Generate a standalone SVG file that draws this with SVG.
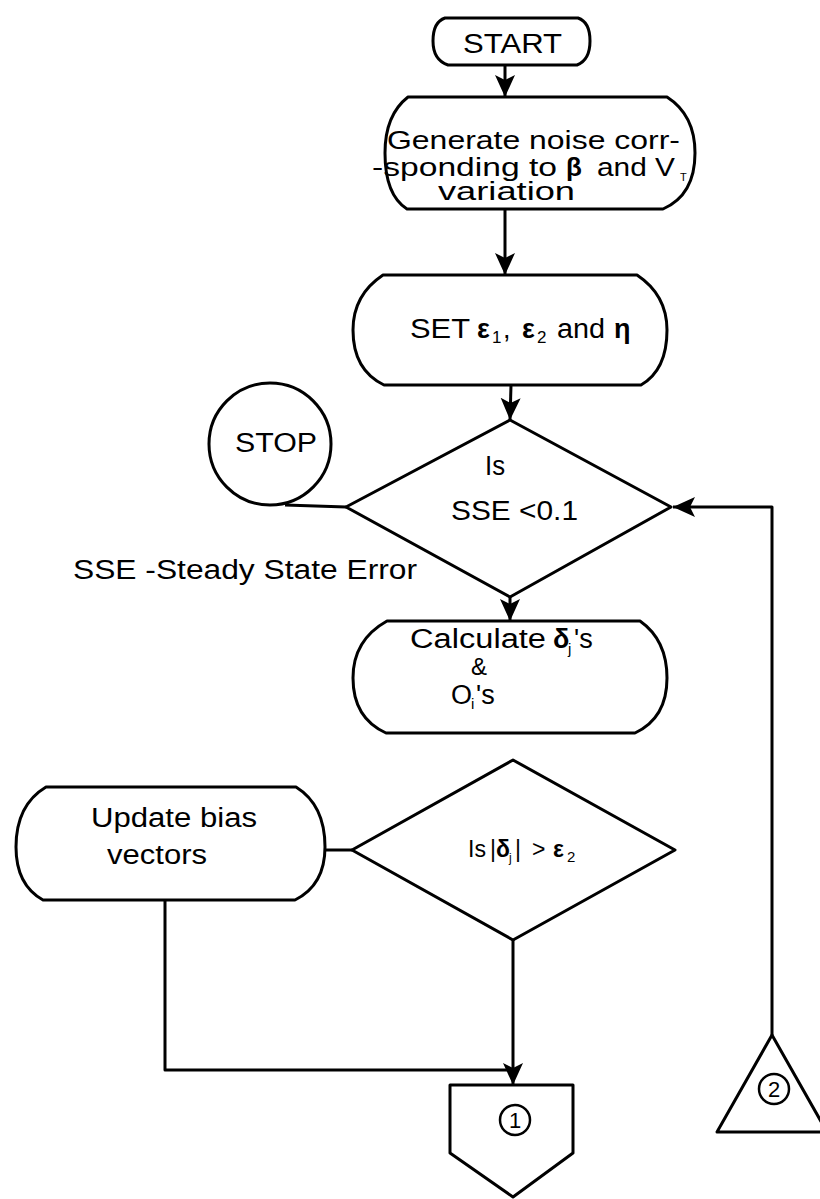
<svg xmlns="http://www.w3.org/2000/svg" width="820" height="1199" viewBox="0 0 820 1199">
<style>
.s{fill:none;stroke:#000;stroke-width:3;stroke-linejoin:round}
.c{fill:none;stroke:#000;stroke-width:3}
.t{font-family:"Liberation Sans",Arial,sans-serif;font-size:27px;fill:#000}
.g{font-size:26px}
.b{font-weight:bold}
.sub{font-size:17px}
.m{font-size:23px}
</style>
<defs>
<marker id="ah" markerUnits="userSpaceOnUse" markerWidth="24" markerHeight="24" refX="22" refY="10" orient="auto" viewBox="0 0 24 20">
<path d="M0,0 L22,10 L0,20 L5,10 Z" fill="#000"/>
</marker>
</defs>
<rect width="820" height="1199" fill="#fff"/>

<g id="start">
<path class="s" d="M445,18 L578,18 Q590,22 590,41 Q590,60 577,65 L448,65 Q433,60 433,41 Q433,22 445,18 Z"/>
<text class="t" x="463" y="53" textLength="99" lengthAdjust="spacingAndGlyphs">START</text>
</g>

<g id="generate">
<path class="s" d="M408,97 L667,97 Q695,115 695,153 Q695,195 663,209 L407,209 Q385,195 385,153 Q385,115 408,97 Z"/>
<text class="t g" x="387" y="149" textLength="293" lengthAdjust="spacingAndGlyphs">Generate noise corr-</text>
<text class="t g" x="372" y="176" textLength="185" lengthAdjust="spacingAndGlyphs">-sponding to</text>
<text class="t g b" x="566" y="176">β</text>
<text class="t g" x="597" y="176" textLength="78" lengthAdjust="spacingAndGlyphs">and V</text>
<text class="t" x="680" y="181" style="font-size:11px">T</text>
<text class="t g" x="438" y="200" textLength="137" lengthAdjust="spacingAndGlyphs">variation</text>
</g>

<g id="set">
<path class="s" d="M383,275 L637,275 Q667,295 667,330 Q667,370 641,385 L384,385 Q353,370 353,330 Q353,295 383,275 Z"/>
<text class="t" x="410" y="338" textLength="60" lengthAdjust="spacingAndGlyphs">SET</text>
<text class="t b" x="477" y="338">ε</text>
<text class="t sub" x="492" y="343">1</text>
<text class="t" x="503" y="338">,</text>
<text class="t b" x="522" y="338">ε</text>
<text class="t sub" x="537" y="343">2</text>
<text class="t" x="557" y="338" textLength="48" lengthAdjust="spacingAndGlyphs">and</text>
<text class="t b" x="614" y="338">η</text>
</g>

<g id="stop">
<circle class="c" cx="270" cy="444" r="61"/>
<text class="t" x="235" y="452" textLength="82" lengthAdjust="spacingAndGlyphs">STOP</text>
</g>

<g id="decision1">
<polygon class="s" points="510,420 671,507 510,597 346,507"/>
<text class="t" x="485" y="475" textLength="20" lengthAdjust="spacingAndGlyphs">Is</text>
<text class="t" x="451" y="520" textLength="127" lengthAdjust="spacingAndGlyphs">SSE &lt;0.1</text>
</g>

<g id="note">
<text class="t" x="73" y="579" textLength="344" lengthAdjust="spacingAndGlyphs">SSE -Steady State Error</text>
</g>

<g id="calculate">
<path class="s" d="M387,621 L640,621 Q667,640 667,678 Q667,718 635,733 L386,733 Q353,718 353,678 Q353,640 387,621 Z"/>
<text class="t" x="410" y="648" textLength="136" lengthAdjust="spacingAndGlyphs">Calculate</text>
<text class="t b" x="553" y="648">δ</text>
<text class="t" x="568" y="654" style="font-size:15px">j</text>
<text class="t" x="574" y="648">'s</text>
<text class="t" x="471" y="675" style="font-size:24px">&amp;</text>
<text class="t" x="451" y="704">O</text>
<text class="t" x="471" y="709" style="font-size:15px">i</text>
<text class="t" x="476" y="704">'s</text>
</g>

<g id="decision2">
<polygon class="s" points="513,760 675,850 513,940 352,850"/>
<text class="t m" x="468" y="857" textLength="18" lengthAdjust="spacingAndGlyphs">Is</text>
<text class="t m" x="490" y="857">|</text>
<text class="t m b" x="496" y="857">δ</text>
<text class="t" x="509" y="862" style="font-size:12px">j</text>
<text class="t m" x="515" y="857">|</text>
<text class="t m" x="532" y="857">&gt;</text>
<text class="t m b" x="553" y="857">ε</text>
<text class="t" x="567" y="862" style="font-size:15px">2</text>
</g>

<g id="update">
<path class="s" d="M46,787 L296,787 Q325,805 325,847 Q325,885 295,900 L43,900 Q16,885 16,847 Q16,805 46,787 Z"/>
<text class="t" x="91" y="827" textLength="166" lengthAdjust="spacingAndGlyphs">Update bias</text>
<text class="t" x="107" y="864" textLength="100" lengthAdjust="spacingAndGlyphs">vectors</text>
</g>

<g id="connector1">
<polygon class="s" points="450,1085 573,1085 573,1153 513,1197 450,1153"/>
<circle class="c" cx="515" cy="1120" r="15" style="stroke-width:2.5"/>
<text class="t" x="515" y="1128" text-anchor="middle" style="font-size:22px">1</text>
</g>

<g id="connector2">
<polygon class="s" points="772,1035 827,1132 717,1132"/>
<circle class="c" cx="774" cy="1089" r="15" style="stroke-width:2.5"/>
<text class="t" x="774" y="1097" text-anchor="middle" style="font-size:22px">2</text>
</g>

<g id="edges" class="s">
<line x1="505" y1="65" x2="505" y2="97" marker-end="url(#ah)"/>
<line x1="505" y1="209" x2="505" y2="275" marker-end="url(#ah)"/>
<line x1="511" y1="385" x2="510" y2="420" marker-end="url(#ah)"/>
<line x1="346" y1="507" x2="285" y2="505"/>
<line x1="510" y1="597" x2="510" y2="621" marker-end="url(#ah)"/>
<polyline points="772,1035 772,507 673,507" marker-end="url(#ah)"/>
<line x1="352" y1="850" x2="325" y2="850"/>
<polyline points="165,900 165,1070 513,1070"/>
<line x1="513" y1="940" x2="513" y2="1085" marker-end="url(#ah)"/>
</g>
</svg>
